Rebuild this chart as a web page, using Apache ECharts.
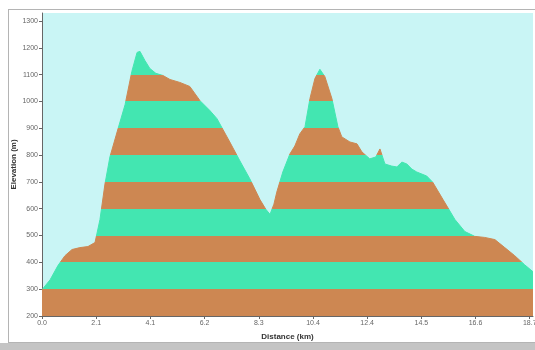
<!DOCTYPE html>
<html>
<head>
<meta charset="utf-8">
<script src="https://cdn.jsdelivr.net/npm/echarts@6/dist/echarts.min.js"></script>
<style>
    body { margin: 0; background: #ffffff; }
    #wrap { position: relative; width: 535px; height: 350px; overflow: hidden; }
    #frame { position: absolute; left: 8px; top: 9px; width: 540px; height: 332px; border: 1px solid #b4b4b4; }
    #shade { position: absolute; left: 0; top: 343px; width: 535px; height: 7px; background: #c4c4c4; }
    #chart { position: absolute; left: 0; top: 0; width: 535px; height: 350px; }
</style>
</head>
<body>
<div id="wrap">
    <div id="frame"></div>
    <div id="shade"></div>
    <div id="chart"></div>
</div>
<script>
// 剖面数据 (km, m)
const distance = [0, 0.31, 0.61, 0.88, 1.15, 1.45, 1.76, 2.03, 2.22, 2.41, 2.60, 2.91, 3.18, 3.44, 3.64, 3.75,
    3.94, 4.13, 4.36, 4.63, 4.90, 5.28, 5.66, 6.05, 6.43, 6.70, 7.19, 7.58, 7.96, 8.34, 8.57, 8.73,
    8.88, 8.99, 9.22, 9.49, 9.68, 9.87, 10.07, 10.26, 10.45, 10.64, 10.83, 11.10, 11.33, 11.48, 11.79,
    12.06, 12.25, 12.55, 12.78, 12.94, 13.13, 13.39, 13.59, 13.78, 13.97, 14.16, 14.35, 14.73, 14.96,
    15.35, 15.81, 16.19, 16.57, 16.95, 17.34, 17.72, 18.10, 18.48, 18.80];
const elevation = [298, 335, 388, 425, 448, 455, 459, 474, 560, 692, 793, 898, 988, 1112, 1183, 1187,
    1153, 1123, 1105, 1097, 1082, 1071, 1056, 1003, 966, 936, 849, 778, 711, 635, 598, 579,
    617, 662, 737, 804, 834, 879, 906, 1011, 1086, 1120, 1093, 1011, 906, 868, 849,
    842, 812, 786, 793, 823, 767, 759, 756, 774, 767, 748, 737, 722, 699,
    635, 560, 515, 497, 493, 485, 455, 425, 391, 365];

const xTickLabels = ['0.0', '2.1', '4.1', '6.2', '8.3', '10.4', '12.4', '14.5', '16.6', '18.7'];
const xInterval = 2.075;
const yTickLabels = ['200', '300', '400', '500', '600', '700', '800', '900', '1000', '1100', '1200', '1300'];

const brown = '#cd8752';
const green = '#43e6b1';

// 每 100 m 交替颜色
const bands = yTickLabels.slice(0, -1).map((v, i) => ({
    gte: Number(v),
    lt: Number(v) + 100,
    color: i % 2 === 0 ? brown : green
}));

const chart = echarts.init(document.getElementById('chart'));

const options = {
    animation: false,
    grid: {
        left: 42,
        right: 2,
        top: 13,
        bottom: 34,
        outerBoundsMode: 'none',
        containLabel: false,
        show: true,
        backgroundColor: '#c9f5f5',
        borderWidth: 0
    },
    xAxis: {
        type: 'value',
        min: 0,
        max: 18.8,
        interval: xInterval,
        name: 'Distance (km)',
        nameLocation: 'middle',
        nameGap: 17,
        nameMoveOverlap: false,
        nameTextStyle: { fontSize: 8, fontWeight: 'bold', color: '#333', fontFamily: 'Liberation Sans' },
        axisLine: { lineStyle: { color: '#666', width: 1 } },
        axisTick: { length: 3, lineStyle: { color: '#666' } },
        splitLine: { show: false },
        axisLabel: {
            fontSize: 7,
            color: '#666',
            margin: 4,
            showMaxLabel: false,
            fontFamily: 'Liberation Sans',
            formatter: v => xTickLabels[Math.round(v / xInterval)] || ''
        }
    },
    yAxis: {
        type: 'value',
        min: 200,
        max: 1330,
        interval: 100,
        name: 'Elevation (m)',
        nameLocation: 'middle',
        nameGap: 24,
        nameMoveOverlap: false,
        nameTextStyle: { fontSize: 8, fontWeight: 'bold', color: '#333', fontFamily: 'Liberation Sans' },
        axisLine: { show: true, lineStyle: { color: '#666', width: 1 } },
        axisTick: { show: true, length: 3, lineStyle: { color: '#666' } },
        splitLine: { show: false },
        axisLabel: {
            fontSize: 7,
            color: '#666',
            margin: 4,
            showMaxLabel: false,
            fontFamily: 'Liberation Sans',
            formatter: v => yTickLabels[Math.round((v - 200) / 100)] || ''
        }
    },
    visualMap: {
        type: 'piecewise',
        show: false,
        dimension: 1,
        seriesIndex: 0,
        pieces: bands,
        outOfRange: { color: brown }
    },
    series: [
        {
            type: 'line',
            data: distance.map((d, i) => [d, elevation[i]]),
            symbol: 'none',
            lineStyle: { width: 1 },
            areaStyle: { opacity: 1 }
        }
    ]
};

chart.setOption(options);
</script>
</body>
</html>
